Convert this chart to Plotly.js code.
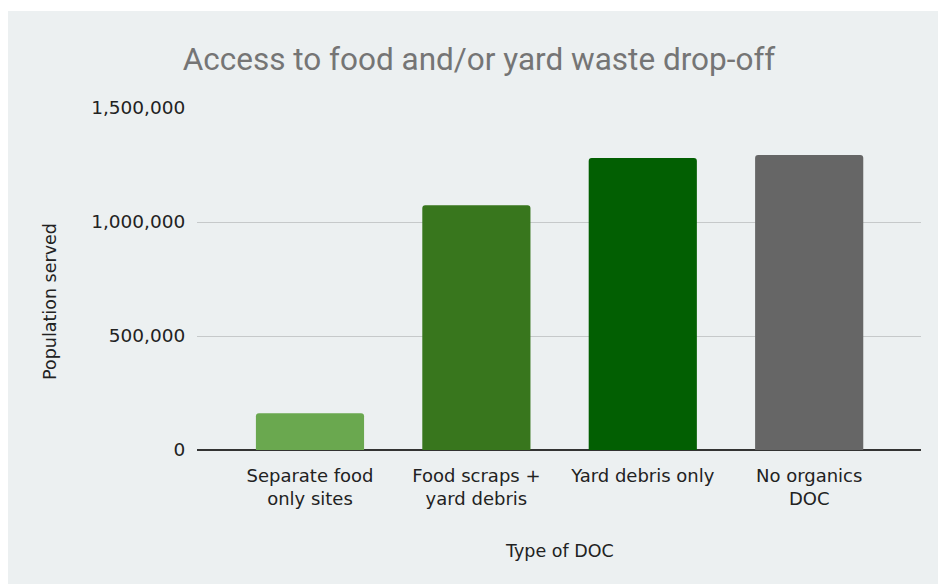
<!DOCTYPE html>
<html>
<head>
<meta charset="utf-8">
<script src="https://cdn.plot.ly/plotly-3.0.1.min.js"></script>
<style>
  html, body { margin: 0; padding: 0; background: #ffffff; width: 938px; height: 584px; overflow: hidden; }
  #chart { position: absolute; left: 8px; top: 11px; width: 930px; height: 573px; }
</style>
</head>
<body>
<div id="chart"></div>
<script>
// Drop-off site access by type of DOC
const categories = [
  "Separate food<br>only sites",
  "Food scraps +<br>yard debris",
  "Yard debris only",
  "No organics<br>DOC"
];
const populationServed = [161000, 1074000, 1280500, 1293700];
const barColors = ["#6aa84f", "#38761d", "#025f02", "#666666"];
const yTickValues = [0, 500000, 1000000, 1500000];
const yTickLabels = ["0", "500,000", "1,000,000", "1,500,000"];

const bg = "#ecf0f1";
const textColor = "#222222";

const trace = {
  type: "bar",
  x: categories,
  y: populationServed,
  width: 0.65,
  marker: { color: barColors, line: { width: 0 }, cornerradius: 3 },
  hoverinfo: "x+y"
};

const layout = {
  width: 930,
  height: 573,
  paper_bgcolor: bg,
  plot_bgcolor: bg,
  margin: { l: 189, r: 17, t: 97, b: 134 },
  showlegend: false,
  title: {
    text: "Access to food and/or yard waste drop-off",
    font: { family: "Roboto", size: 31.5, color: "#757575" },
    x: 0.5065,
    xanchor: "center",
    y: 0.897,
    yanchor: "bottom",
    xref: "container",
    yref: "container"
  },
  xaxis: {
    type: "category",
    range: [-0.679, 3.672],
    showgrid: false,
    zeroline: false,
    showline: false,
    ticks: "outside",
    ticklen: 9,
    tickcolor: "rgba(0,0,0,0)",
    tickfont: { family: "DejaVu Sans", size: 18, color: textColor },
    fixedrange: true
  },
  yaxis: {
    range: [0, 1500000],
    tickvals: yTickValues,
    ticktext: yTickLabels,
    tickfont: { family: "DejaVu Sans", size: 18.5, color: textColor },
    showgrid: true,
    gridcolor: "#c6c9ca",
    gridwidth: 1,
    zeroline: true,
    zerolinecolor: "#333333",
    zerolinewidth: 1.5,
    showline: false,
    ticks: "outside",
    ticklen: 7,
    tickcolor: "rgba(0,0,0,0)",
    fixedrange: true
  },
  annotations: [
    {
      text: "Type of DOC",
      xref: "paper", yref: "paper",
      x: 0.5, y: -0.295,
      xanchor: "center", yanchor: "middle",
      showarrow: false,
      font: { family: "DejaVu Sans", size: 17.5, color: textColor }
    },
    {
      text: "Population served",
      xref: "paper", yref: "paper",
      x: -0.203, y: 0.433,
      xanchor: "center", yanchor: "middle",
      textangle: -90,
      showarrow: false,
      font: { family: "DejaVu Sans", size: 17.5, color: textColor }
    }
  ]
};

Plotly.newPlot("chart", [trace], layout, { displayModeBar: false, staticPlot: true });
</script>
</body>
</html>
